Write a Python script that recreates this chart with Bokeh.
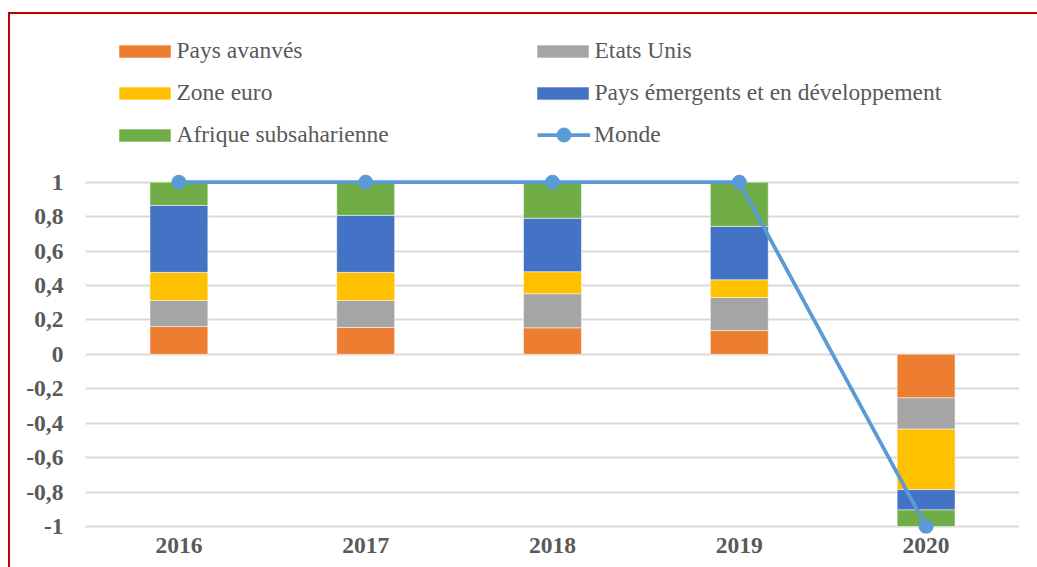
from bokeh.plotting import figure
from bokeh.models import (Range1d, FixedTicker, CustomJSTickFormatter, Legend,
                          LegendItem, ColumnDataSource, FactorRange)
from bokeh.embed import file_html
from bokeh.resources import INLINE

# ---- data ----
years = ["2016", "2017", "2018", "2019", "2020"]
pays_avances = [0.162, 0.156, 0.154, 0.138, -0.253]
etats_unis = [0.151, 0.157, 0.198, 0.192, -0.182]
zone_euro = [0.163, 0.163, 0.128, 0.103, -0.351]
pays_emergents = [0.389, 0.331, 0.310, 0.310, -0.118]
afrique = [0.135, 0.193, 0.210, 0.257, -0.096]
monde = [1, 1, 1, 1, -1]
y_ticks = [-1, -0.8, -0.6, -0.4, -0.2, 0, 0.2, 0.4, 0.6, 0.8, 1]

series_keys = ["pa", "eu", "ze", "pe", "af"]
series_labels = ["Pays avanvés", "Etats Unis", "Zone euro",
                 "Pays émergents et en développement", "Afrique subsaharienne"]
series_colors = ["#ED7D31", "#A5A5A5", "#FFC000", "#4472C4", "#70AD47"]

src = ColumnDataSource(dict(year=years, pa=pays_avances, eu=etats_unis,
                            ze=zone_euro, pe=pays_emergents, af=afrique,
                            monde=monde))

TXT = "#595959"
FONT = "Liberation Serif"
FS = "23.5px"

p = figure(width=1037, height=567, x_range=FactorRange(*years),
           y_range=Range1d(-1.0407, 2.055), output_backend="svg",
           toolbar_location=None, min_border_left=85, min_border_right=18,
           min_border_top=0, min_border_bottom=34)
p.styles = {"background": "linear-gradient(#C00000,#C00000) 8px 12px / 100% 2px no-repeat, "
                          "linear-gradient(#C00000,#C00000) 8px 12px / 2px 100% no-repeat"}
p.border_fill_color = None
p.background_fill_color = None
p.outline_line_color = None

bars = p.vbar_stack(series_keys, x="year", width=0.31, source=src,
                    color=series_colors, line_color="white", line_alpha=0.5,
                    line_width=1)
ln = p.line("year", "monde", source=src, line_width=3.75, color="#5B9BD5")
sc = p.scatter("year", "monde", source=src, size=14, color="#5B9BD5")

# axes
p.xaxis.axis_line_color = None
p.xaxis.major_tick_line_color = None
p.xaxis.major_tick_out = 0
p.xaxis.major_tick_in = 0
p.xaxis.major_label_standoff = 4
p.xaxis.major_label_text_font = FONT
p.xaxis.major_label_text_font_size = FS
p.xaxis.major_label_text_font_style = "bold"
p.xaxis.major_label_text_color = TXT

p.yaxis.ticker = FixedTicker(ticks=y_ticks)
p.yaxis.formatter = CustomJSTickFormatter(
    code="return tick.toFixed(1).replace('.', ',').replace(/,0$/, '');")
p.yaxis.axis_line_color = None
p.yaxis.major_tick_line_color = None
p.yaxis.minor_tick_line_color = None
p.yaxis.major_tick_out = 0
p.yaxis.major_tick_in = 0
p.yaxis.major_label_standoff = 22
p.yaxis.major_label_text_font = FONT
p.yaxis.major_label_text_font_size = FS
p.yaxis.major_label_text_font_style = "bold"
p.yaxis.major_label_text_color = TXT

p.xgrid.grid_line_color = None
p.ygrid.ticker = FixedTicker(ticks=y_ticks)
p.ygrid.grid_line_color = "#D9D9D9"
p.ygrid.grid_line_width = 2

common = dict(padding=0, margin=0, border_line_color=None,
              background_fill_alpha=0, label_text_font=FONT,
              label_text_font_size=FS, label_text_color=TXT)

items = [LegendItem(label=lab, renderers=[r]) for lab, r in zip(series_labels, bars)]
legend = Legend(items=items, location=(26.5, 383.5), orientation="horizontal",
                ncols=2, glyph_width=65, glyph_height=16, label_standoff=0,
                label_width=341, label_height=30, spacing=12, **common)
p.add_layout(legend)

legend2 = Legend(items=[LegendItem(label="Monde", renderers=[ln, sc])],
                 location=(452, 381.5), glyph_width=53, glyph_height=35,
                 label_standoff=4, label_height=35, **common)
p.add_layout(legend2)

open("out.html", "w").write(file_html(p, INLINE))
